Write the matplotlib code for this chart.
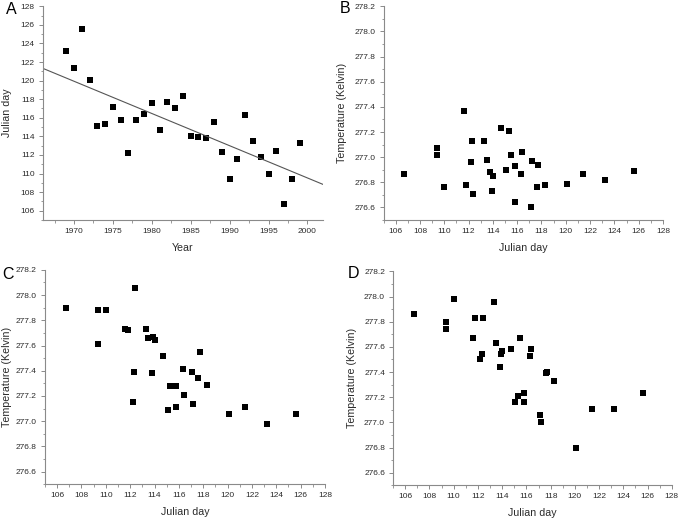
import numpy as np
import matplotlib
matplotlib.use("Agg")
import matplotlib.pyplot as plt
from matplotlib.ticker import MultipleLocator, AutoMinorLocator, FormatStrFormatter

plt.rcParams["font.family"] = ["Liberation Sans", "DejaVu Sans"]

years = list(range(1969, 2000))
julian_day = [123.2, 121.4, 125.6, 120.1, 115.1, 115.3, 117.2, 115.8, 112.2, 115.8,
              116.4, 117.6, 114.7, 117.7, 117.1, 118.3, 114.0, 113.9, 113.8, 115.5,
              112.3, 109.4, 111.6, 116.3, 113.5, 111.8, 110.0, 112.4, 106.7, 109.4,
              113.3]
temp_b = [276.82, 276.87, 276.89, 276.79, 276.90, 277.21, 276.97, 276.93, 276.96, 276.64,
          277.04, 276.76, 277.23, 276.94, 276.60, 276.78, 276.85, 276.73, 276.88, 277.02,
          277.13, 277.02, 277.37, 276.87, 276.98, 276.78, 276.76, 276.71, 276.87, 277.07,
          277.13]
temp_c = [276.98, 277.11, 277.06, 277.06, 277.09, 277.28, 277.14, 277.28, 277.15, 277.11,
          277.21, 277.34, 277.52, 277.55, 277.39, 277.29, 277.64, 277.67, 277.38, 277.28,
          277.39, 277.88, 277.73, 277.41, 277.66, 277.72, 277.88, 278.06, 277.90, 277.61,
          277.73]
temp_d = [277.11, 277.11, 277.23, 276.80, 277.16, 277.21, 277.00, 277.16, 277.50, 277.23,
          277.58, 277.39, 277.58, 277.40, 277.06, 277.33, 277.57, 277.54, 277.44, 277.67,
          277.54, 277.80, 277.67, 277.53, 277.63, 277.83, 277.98, 277.83, 277.86, 277.74,
          277.96]

AXIS_GRAY = "#8a8a8a"
TEXT_GRAY = "#2b2b2b"


def style(ax, xlabel, ylabel, ylabel_x):
    for side in ("top", "right"):
        ax.spines[side].set_visible(False)
    for side in ("left", "bottom"):
        ax.spines[side].set_color(AXIS_GRAY)
        ax.spines[side].set_linewidth(0.8)
    ax.xaxis.set_minor_locator(AutoMinorLocator(2))
    ax.yaxis.set_minor_locator(AutoMinorLocator(2))
    ax.tick_params(which="major", direction="out", length=3, width=0.7,
                   color=AXIS_GRAY, labelsize=6, labelcolor=TEXT_GRAY, pad=2.8)
    ax.tick_params(which="minor", direction="out", length=1.8, width=0.6, color=AXIS_GRAY)
    ax.set_xlabel(xlabel, fontsize=7.7, color=TEXT_GRAY)
    ax.set_ylabel(ylabel, fontsize=7.7, color=TEXT_GRAY)
    ax.xaxis.set_label_coords(0.5, -0.105)
    ax.yaxis.set_label_coords(ylabel_x, 0.5)


fig = plt.figure(figsize=(6.8, 5.19), dpi=100)

# A: julian day vs year with regression line
ax_a = fig.add_axes([0.063, 0.576, 0.412, 0.412])
ax_a.plot(years, julian_day, "s", color="black", markersize=3.7, markeredgewidth=0)
slope, intercept = np.polyfit(years, julian_day, 1)
fit_x = np.array([1966, 2002])
ax_a.plot(fit_x, slope * fit_x + intercept, color="#555555", linewidth=0.8)
ax_a.set_xlim(1966, 2002)
ax_a.set_ylim(105, 128)
ax_a.xaxis.set_major_locator(MultipleLocator(5))
ax_a.yaxis.set_major_locator(MultipleLocator(2))
style(ax_a, "Year", "Julian day", -0.111)

panels = [
    ("B", temp_b, [0.564, 0.576, 0.411, 0.412], -0.129),
    ("C", temp_c, [0.066, 0.067, 0.412, 0.413], -0.118),
    ("D", temp_d, [0.578, 0.065, 0.410, 0.412], -0.128),
]
for name, temps, rect, ylab_x in panels:
    ax = fig.add_axes(rect)
    ax.plot(julian_day, temps, "s", color="black", markersize=3.7, markeredgewidth=0)
    ax.set_xlim(105, 128)
    ax.set_ylim(276.5, 278.2)
    ax.xaxis.set_major_locator(MultipleLocator(2))
    ax.yaxis.set_major_locator(MultipleLocator(0.2))
    ax.yaxis.set_major_formatter(FormatStrFormatter("%.1f"))
    style(ax, "Julian day", "Temperature (Kelvin)", ylab_x)

# panel letters
letter_kw = dict(fontsize=11.5, va="center", ha="left", color="black")
fig.text(6 / 680, 1 - 9.5 / 519, "A", **letter_kw)
fig.text(340 / 680, 1 - 8.5 / 519, "B", **letter_kw)
fig.text(2 / 680, 1 - 274.5 / 519, "C", **letter_kw)
fig.text(348 / 680, 1 - 274 / 519, "D", **letter_kw)

fig.savefig("out.png", dpi=100)
